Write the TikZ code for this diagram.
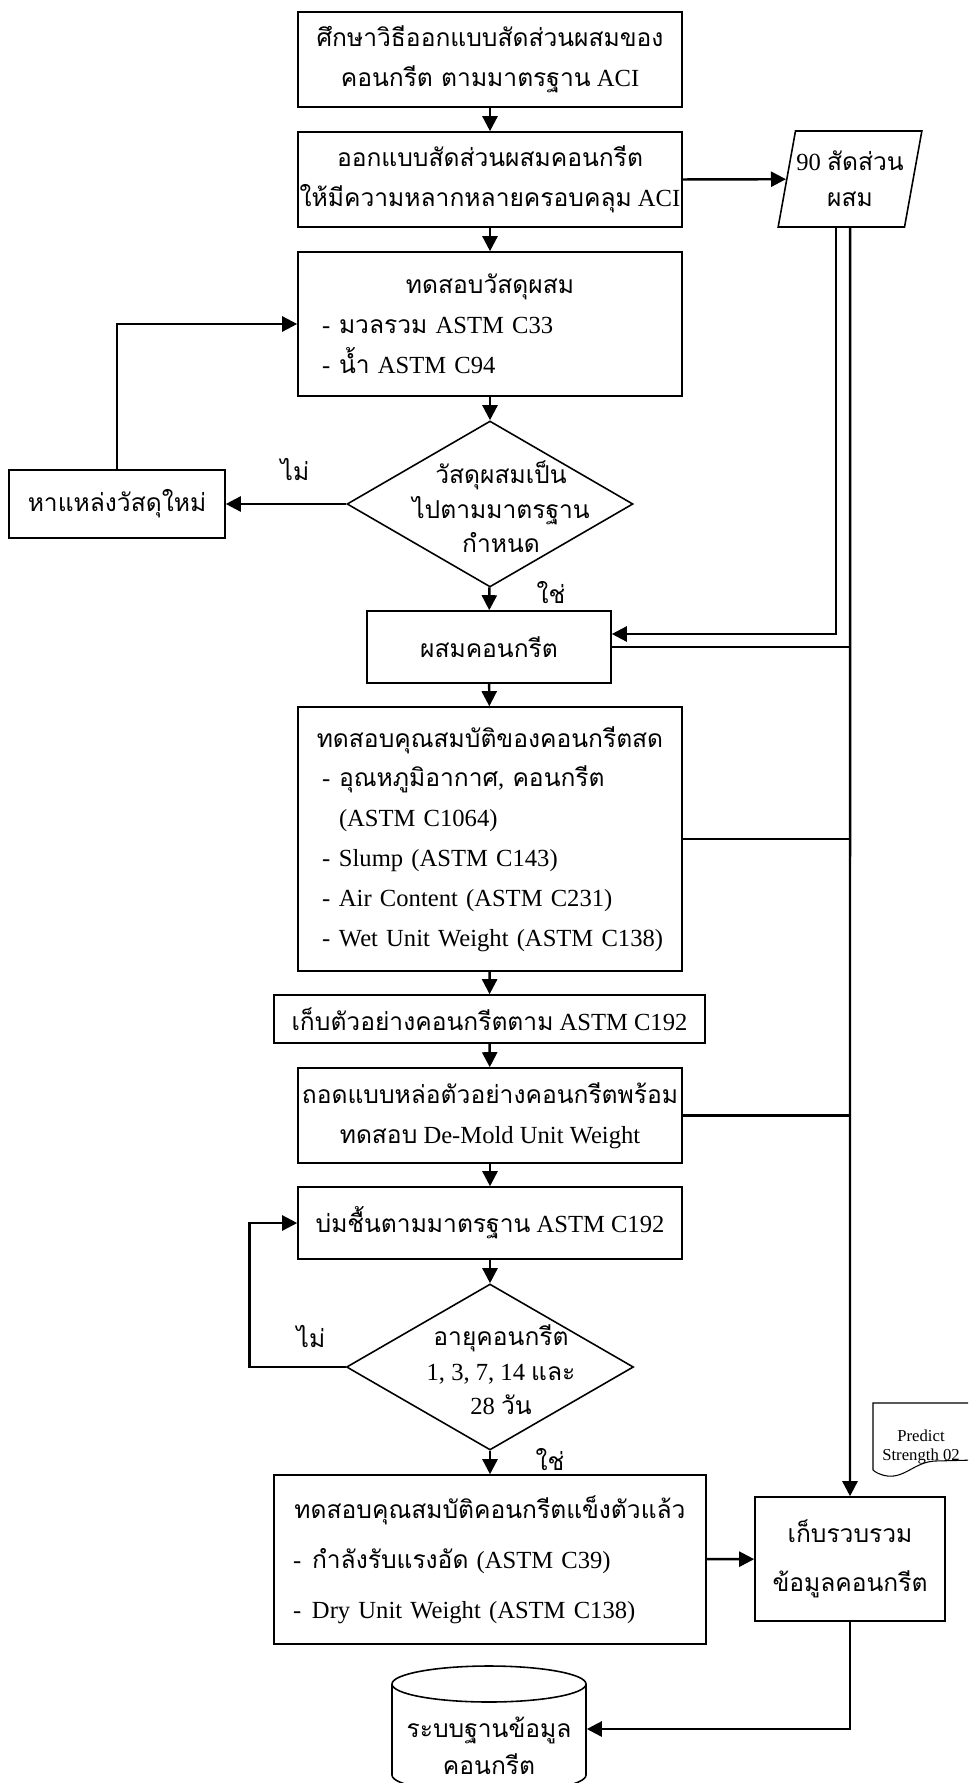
\documentclass[tikz,border=0pt]{standalone}
\usepackage{fontspec}
\setmainfont{Liberation Serif}
\newfontfamily\thaifont[Script=Thai]{Loma}
\newcommand{\tha}[1]{{\thaifont #1}}
\usetikzlibrary{shapes.geometric, arrows.meta}

\begin{document}
\begin{tikzpicture}[
		every node/.style={rectangle, draw, line width=0.9pt, align=center, inner sep=0pt,
			font=\fontsize{14}{22.7}\selectfont},
		lbl/.style={draw=none},
		conn/.style={line width=1.4pt, -{Triangle[length=0.3cm, width=0.3cm]}}
	]
  \useasboundingbox (0cm, 0cm) rectangle (19.36cm, -35.66cm);
  \node (study) [minimum width=7.68cm, minimum height=1.9cm] at (9.8cm, -1.19cm)
    {\tha{ศึกษาวิธีออกแบบสัดส่วนผสมของ}\\\tha{คอนกรีต ตามมาตรฐาน} ACI};
  \node (design) [minimum width=7.68cm, minimum height=1.9cm] at (9.8cm, -3.59cm)
    {\tha{ออกแบบสัดส่วนผสมคอนกรีต}\\\tha{ให้มีความหลากหลายครอบคลุม} ACI};
  \node (mat_test) [minimum width=7.68cm, minimum height=2.88cm, text width=6.72cm, align=left] at (9.8cm, -6.48cm)
    {\makebox[\hsize]{\tha{ทดสอบวัสดุผสม}}\\
     \makebox[0.34cm][l]{-}\tha{มวลรวม} ASTM C33\\
     \makebox[0.34cm][l]{-}\tha{น้ำ} ASTM C94};
  \node (mat_ok) [diamond, minimum width=5.72cm, minimum height=3.32cm] at (9.8cm, -10.08cm) {};
  \node (mat_ok_label) [lbl, font=\fontsize{14}{19.6}\selectfont] at (10.02cm, -10.14cm)
    {\tha{วัสดุผสมเป็น}\\\tha{ไปตามมาตรฐาน}\\\tha{กำหนด}};
  \node (new_src) [minimum width=4.32cm, minimum height=1.36cm] at (2.34cm, -10.08cm) {\tha{หาแหล่งวัสดุใหม่}};
  \node (mix) [minimum width=4.88cm, minimum height=1.44cm] at (9.78cm, -12.94cm) {\tha{ผสมคอนกรีต}};
  \node (fresh) [minimum width=7.68cm, minimum height=5.28cm, text width=7.3cm, align=left] at (9.8cm, -16.78cm)
    {\makebox[\hsize]{\tha{ทดสอบคุณสมบัติของคอนกรีตสด}}\\
     \hspace*{0.29cm}\makebox[0.34cm][l]{-}\tha{อุณหภูมิอากาศ}, \tha{คอนกรีต}\\
     \hspace*{0.63cm}(ASTM C1064)\\
     \hspace*{0.29cm}\makebox[0.34cm][l]{-}Slump (ASTM C143)\\
     \hspace*{0.29cm}\makebox[0.34cm][l]{-}Air Content (ASTM C231)\\
     \hspace*{0.29cm}\makebox[0.34cm][l]{-}Wet Unit Weight (ASTM C138)};
  \node (sample) [minimum width=8.62cm, minimum height=0.96cm] at (9.79cm, -20.38cm) {\tha{เก็บตัวอย่างคอนกรีตตาม} ASTM C192};
  \node (demold) [minimum width=7.68cm, minimum height=1.9cm] at (9.8cm, -22.31cm)
    {\tha{ถอดแบบหล่อตัวอย่างคอนกรีตพร้อม}\\\tha{ทดสอบ} De-Mold Unit Weight};
  \node (cure) [minimum width=7.68cm, minimum height=1.44cm] at (9.8cm, -24.46cm) {\tha{บ่มชื้นตามมาตรฐาน} ASTM C192};
  \node (age_ok) [diamond, minimum width=5.74cm, minimum height=3.32cm] at (9.8cm, -27.34cm) {};
  \node (age_ok_label) [lbl, font=\fontsize{14}{19.6}\selectfont] at (10.02cm, -27.4cm)
    {\tha{อายุคอนกรีต}\\1, 3, 7, 14 \tha{และ}\\28 \tha{วัน}};
  \node (hard) [minimum width=8.64cm, minimum height=3.38cm, text width=7.88cm, align=left,
    font=\fontsize{14}{28.5}\selectfont] at (9.8cm, -31.19cm)
    {\makebox[\hsize]{\tha{ทดสอบคุณสมบัติคอนกรีตแข็งตัวแล้ว}}\\
     \makebox[0.38cm][l]{-}\tha{กำลังรับแรงอัด} (ASTM C39)\\
     \makebox[0.38cm][l]{-}Dry Unit Weight (ASTM C138)};
  \node (collect) [minimum width=3.8cm, minimum height=2.48cm, font=\fontsize{14}{27.9}\selectfont] at (17cm, -31.18cm)
    {\tha{เก็บรวบรวม}\\\tha{ข้อมูลคอนกรีต}};
  \node (ratio) [trapezium, trapezium left angle=73, trapezium right angle=107, trapezium stretches=true,
    minimum width=2.88cm, minimum height=1.92cm, font=\fontsize{14}{20.5}\selectfont] at (17cm, -3.58cm)
    {90 \tha{สัดส่วน}\\\tha{ผสม}};
  \node (db) [lbl, minimum width=3.88cm, font=\fontsize{14}{21}\selectfont] at (9.78cm, -34.92cm)
    {\tha{ระบบฐานข้อมูล}\\\tha{คอนกรีต}};
  \node (predict) [lbl, font=\fontsize{9.5}{10.8}\selectfont] at (18.42cm, -28.94cm) {Predict\\Strength 02};
  \node (no_1) [lbl] at (5.9cm, -9.4cm) {\tha{ไม่}};
  \node (yes_1) [lbl] at (11.02cm, -11.86cm) {\tha{ใช่}};
  \node (no_2) [lbl] at (6.22cm, -26.74cm) {\tha{ไม่}};
  \node (yes_2) [lbl] at (11cm, -29.2cm) {\tha{ใช่}};
  % cylinder and document outlines, cut by the page edge
  \begin{scope}
    \clip (0cm, 0cm) rectangle (19.36cm, -35.66cm);
    \draw [line width=0.9pt] (7.84cm, -33.68cm) -- (7.84cm, -35.5cm)
      arc [start angle=180, end angle=360, x radius=1.94cm, y radius=0.36cm] -- (11.72cm, -33.68cm);
    \draw [line width=0.9pt] (9.78cm, -33.68cm) ellipse [x radius=1.94cm, y radius=0.36cm];
    \draw [line width=0.6pt] (17.46cm, -29.4cm) -- (17.46cm, -28.06cm) -- (19.5cm, -28.06cm) -- (19.5cm, -29.2cm)
      -- (18.7cm, -29.22cm) .. controls (18.3cm, -29.24cm) and (18.1cm, -29.56cm) .. (17.75cm, -29.52cm)
      .. controls (17.6cm, -29.5cm) and (17.5cm, -29.44cm) .. (17.46cm, -29.4cm);
  \end{scope}
  \draw [conn] (study) -- (design);
  \draw [conn] (design) -- (mat_test);
  \draw [conn] (mat_test) -- (mat_ok);
  \draw [conn] (mat_ok) -- (mix);
  \draw [conn] (mat_ok) -- (new_src);
  \draw [conn] (new_src.north) |- (mat_test.west);
  \draw [conn] (design.east) -- (ratio);
  \draw [conn] ([xshift=-0.28cm]ratio.south) |- ([yshift=0.26cm]mix.east);
  \draw [conn] (ratio.south) -- (collect.north);
  \draw [conn] (mix) -- (fresh);
  \draw [conn] (fresh) -- (sample);
  \draw [conn] (sample) -- (demold);
  \draw [conn] (demold) -- (cure);
  \draw [conn] (cure) -- (age_ok);
  \draw [conn] (age_ok) -- (hard);
  \draw [conn] (age_ok.west) -- ++(-1.92cm, 0) |- (cure.west);
  \draw [line width=1.4pt] (mix.east) -- (mix.east -| collect.north);
  \draw [line width=1.4pt] (fresh.east) -- (fresh.east -| collect.north);
  \draw [line width=1.4pt] (demold.east) -- (demold.east -| collect.north);
  \draw [conn] (hard) -- (collect);
  \draw [conn] (collect.south) |- ([yshift=0.34cm]db.east);
\end{tikzpicture}
\end{document}
